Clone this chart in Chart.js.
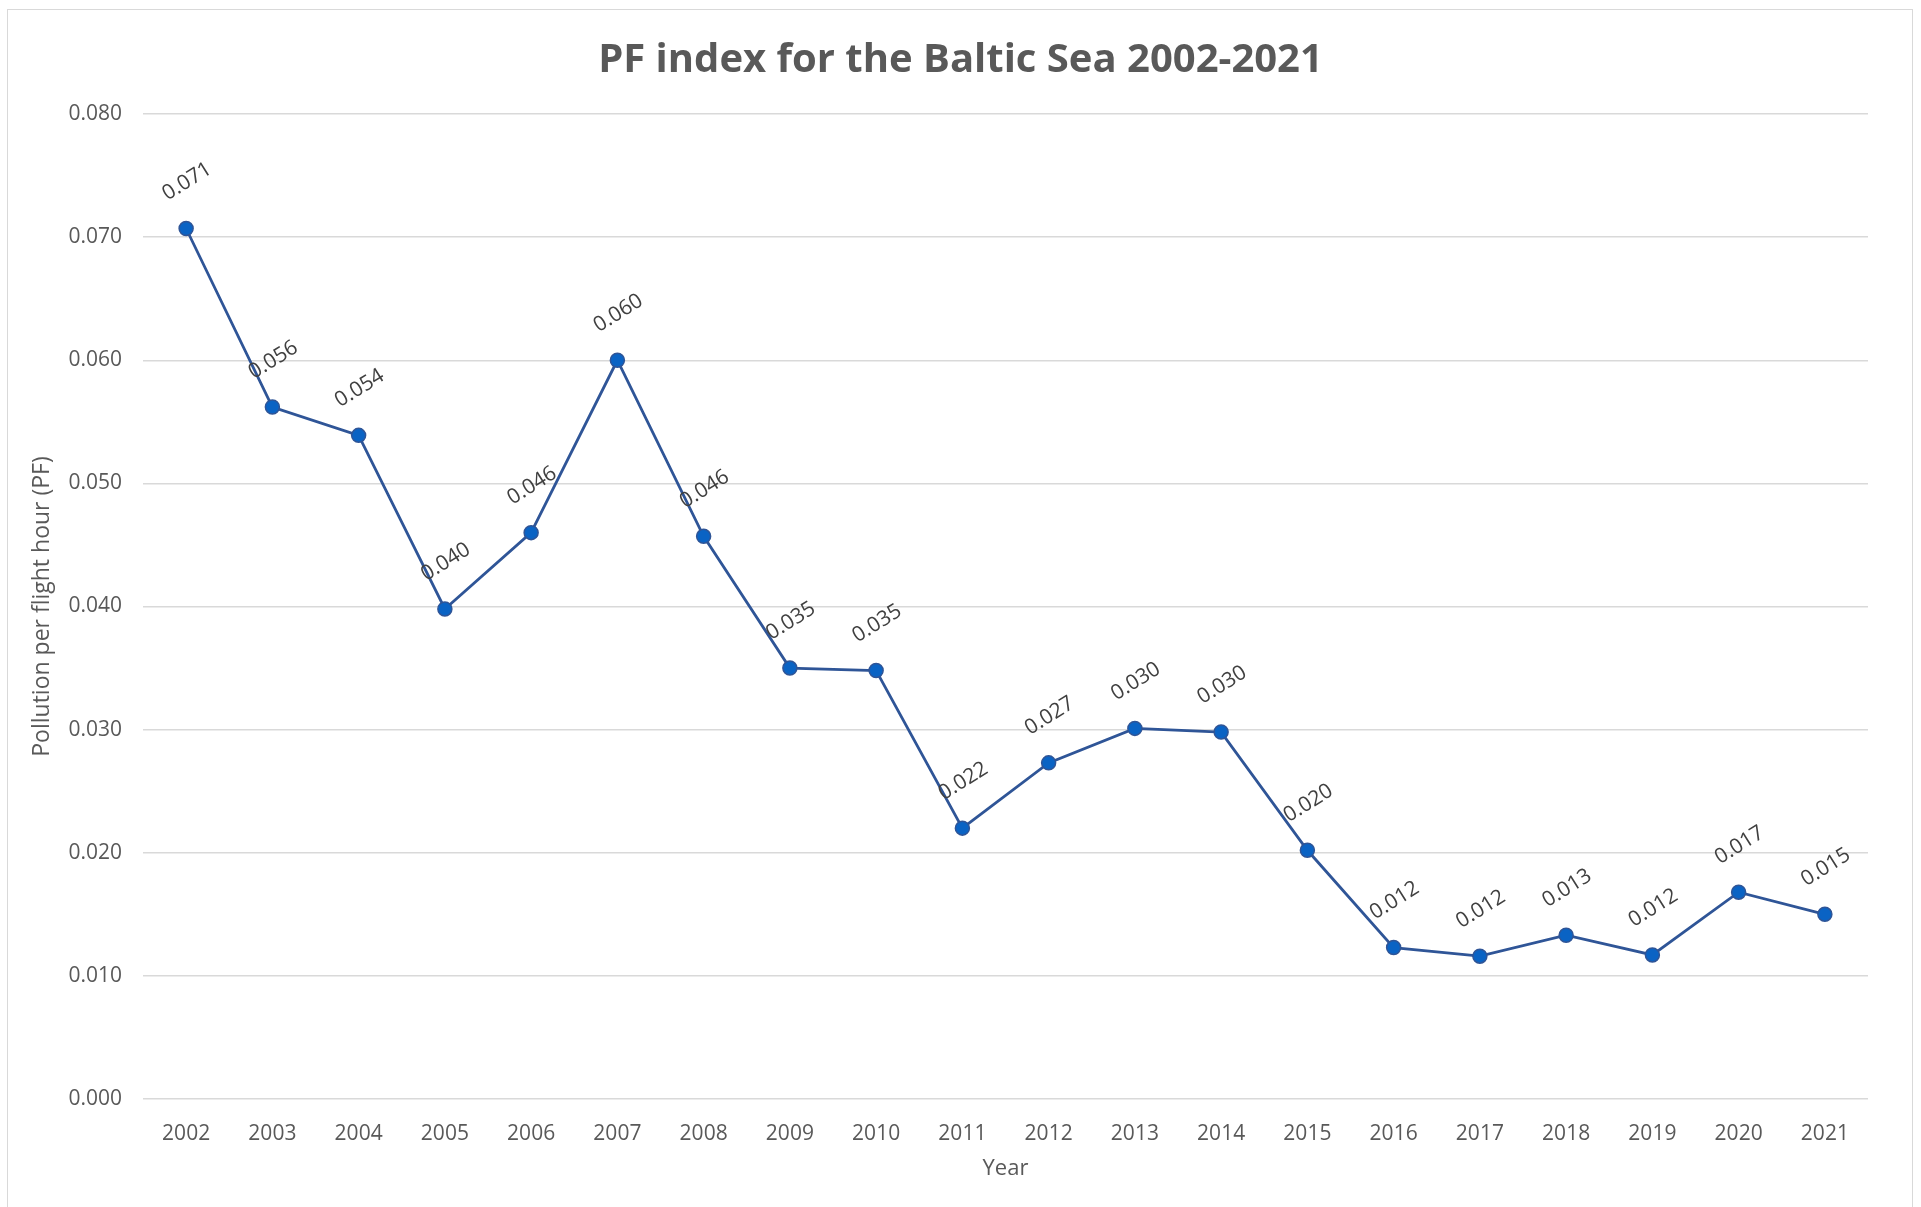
<!DOCTYPE html>
<html>
<head>
<meta charset="utf-8">
<script src="https://cdn.jsdelivr.net/npm/chart.js@4.4.1/dist/chart.umd.min.js"></script>
<style>
  html, body { margin: 0; padding: 0; background: #fff; overflow: hidden; }
  #wrap { position: relative; width: 1921px; height: 1207px; }
  #frame { position: absolute; left: 7px; top: 9px; width: 1904px; height: 1300px;
           border: 1.5px solid #d9d9d9; pointer-events: none; }
</style>
</head>
<body>
<div id="wrap">
  <canvas id="myChart" width="1921" height="1207"></canvas>
  <div id="frame"></div>
</div>
<script>
// chart data
const years = ['2002', '2003', '2004', '2005', '2006', '2007', '2008', '2009', '2010', '2011',
               '2012', '2013', '2014', '2015', '2016', '2017', '2018', '2019', '2020', '2021'];
const pfValues = [0.0707, 0.0562, 0.0539, 0.0398, 0.0460, 0.0600, 0.0457, 0.0350, 0.0348, 0.0220,
                  0.0273, 0.0301, 0.0298, 0.0202, 0.0123, 0.0116, 0.0133, 0.0117, 0.0168, 0.0150];
const yTicks = [0, 0.01, 0.02, 0.03, 0.04, 0.05, 0.06, 0.07, 0.08];

const FONT = "'Open Sans', sans-serif";
const GREY = '#595959';

// draws the rotated value labels above each point
const valueLabels = {
  id: 'valueLabels',
  afterDatasetsDraw(chart) {
    const ctx = chart.ctx;
    const meta = chart.getDatasetMeta(0);
    ctx.save();
    ctx.font = '21px ' + FONT;
    ctx.fillStyle = '#404040';
    ctx.textAlign = 'center';
    ctx.textBaseline = 'middle';
    meta.data.forEach((pt, i) => {
      ctx.save();
      ctx.translate(pt.x + 1, pt.y - 47);
      ctx.rotate(-32 * Math.PI / 180);
      ctx.fillText(pfValues[i].toFixed(3), 0, 0);
      ctx.restore();
    });
    ctx.restore();
  }
};

document.addEventListener('DOMContentLoaded', function() {
  const ctx = document.getElementById('myChart').getContext('2d');
  new Chart(ctx, {
    type: 'line',
    data: {
      labels: years,
      datasets: [{
        label: 'PF',
        data: pfValues,
        borderColor: '#2F5597',
        borderWidth: 2.8,
        backgroundColor: '#0A63C4',
        pointBackgroundColor: '#0A63C4',
        pointBorderColor: '#2F5597',
        pointBorderWidth: 1.5,
        pointRadius: 7,
        tension: 0
      }]
    },
    options: {
      responsive: false,
      animation: false,
      layout: { padding: 0 },
      plugins: {
        legend: { display: false },
        tooltip: { enabled: false },
        title: {
          display: true,
          text: 'PF index for the Baltic Sea 2002-2021',
          color: GREY,
          font: { family: FONT, size: 40, weight: 'bold', lineHeight: 1.2 },
          padding: { top: 37, bottom: 29 }
        }
      },
      scales: {
        x: {
          offset: true,
          grid: { display: false },
          border: { display: false },
          ticks: { color: GREY, font: { family: FONT, size: 21 }, padding: 14, maxRotation: 0 },
          title: { display: true, text: 'Year', color: GREY,
                   font: { family: FONT, size: 22 }, padding: { top: 0, bottom: 25 } },
          afterFit(scale) { scale.height = 108; }
        },
        y: {
          min: 0,
          max: 0.08,
          afterBuildTicks(scale) { scale.ticks = yTicks.map(v => ({ value: v })); },
          grid: { color: '#d9d9d9', lineWidth: 1.5, drawTicks: false },
          border: { display: false },
          ticks: { color: GREY, font: { family: FONT, size: 21 }, padding: 21,
                   callback: v => v.toFixed(3) },
          title: { display: true, text: 'Pollution per flight hour (PF)', color: GREY,
                   font: { family: FONT, size: 23 }, padding: { top: 29, bottom: 0 } },
          afterFit(scale) { scale.width = 143; }
        },
        y2: {
          position: 'right',
          display: true,
          grid: { display: false },
          border: { display: false },
          ticks: { display: false },
          afterFit(scale) { scale.width = 53; }
        }
      }
    },
    plugins: [valueLabels]
  });
});
</script>
</body>
</html>
